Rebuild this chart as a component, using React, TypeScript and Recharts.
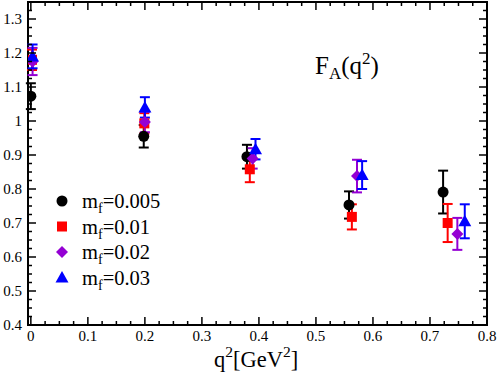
import { ScatterChart, Scatter, XAxis, YAxis, ErrorBar, ReferenceArea, Legend } from "recharts"

// q^2 positions, F_A values and errors per quark mass
const q2Mf005 = [0, 0.198, 0.379, 0.558, 0.723]
const faMf005 = [1.073, 0.955, 0.895, 0.753, 0.791]
const errMf005 = [0.038, 0.033, 0.035, 0.04, 0.063]

const q2Mf01 = [0.002, 0.199, 0.384, 0.563, 0.731]
const faMf01 = [1.18, 0.993, 0.858, 0.718, 0.7]
const errMf01 = [0.03, 0.03, 0.038, 0.037, 0.056]

const q2Mf02 = [0.003, 0.2, 0.389, 0.572, 0.748]
const faMf02 = [1.175, 0.997, 0.89, 0.838, 0.668]
const errMf02 = [0.04, 0.03, 0.03, 0.048, 0.047]

const q2Mf03 = [0.003, 0.2, 0.394, 0.581, 0.761]
const faMf03 = [1.19, 1.04, 0.917, 0.841, 0.705]
const errMf03 = [0.035, 0.03, 0.03, 0.041, 0.05]

const massLabels = ["0.005", "0.01", "0.02", "0.03"]

const xMajor = [0, 0.1, 0.2, 0.3, 0.4, 0.5, 0.6, 0.7, 0.8]
const yMajor = [0.4, 0.5, 0.6, 0.7, 0.8, 0.9, 1, 1.1, 1.2, 1.3]

const W = 498
const H = 376
const PLOT_LEFT = 28
const PLOT_RIGHT = 487
const PLOT_TOP = 2
const PLOT_BOTTOM = 325
const FONT = "'Times New Roman', Times, 'Liberation Serif', serif"

const withMinor = (major: number[], extra: number) => {
    const out: number[] = []
    for (let i = 0; i < major.length; i++) {
        out.push(major[i])
        for (let k = 1; k < 4; k++) {
            const v = +(major[i] + k * 0.025).toFixed(3)
            if (i < major.length - 1 || v <= extra) out.push(v)
        }
    }
    return out
}
const xTicks = withMinor(xMajor, 0.8)
const yTicks = withMinor(yMajor, 1.35)

const isMajor = (v: number) => Math.abs(v * 10 - Math.round(v * 10)) < 1e-6

const fmt = (v: number) => (v === 1 ? "1" : v === 0 ? "0" : v.toFixed(1))

function XTick({ x, payload }: any) {
    const v = payload.value
    const len = isMajor(v) ? 8 : 4
    return (
        <g>
            <line x1={x} x2={x} y1={PLOT_BOTTOM} y2={PLOT_BOTTOM - len} stroke="#000" strokeWidth={1.5} />
            <line x1={x} x2={x} y1={PLOT_TOP} y2={PLOT_TOP + len} stroke="#000" strokeWidth={1.5} />
            {isMajor(v) && (
                <text x={x} y={341} textAnchor="middle" style={{ fontFamily: FONT, fontSize: 15 }} fill="#000">
                    {fmt(v)}
                </text>
            )}
        </g>
    )
}

function YTick({ y, payload }: any) {
    const v = payload.value
    const len = isMajor(v) ? 8 : 4
    return (
        <g>
            <line x1={PLOT_LEFT} x2={PLOT_LEFT + len} y1={y} y2={y} stroke="#000" strokeWidth={1.5} />
            <line x1={PLOT_RIGHT} x2={PLOT_RIGHT - len} y1={y} y2={y} stroke="#000" strokeWidth={1.5} />
            {isMajor(v) && (
                <text x={22} y={y + 5} textAnchor="end" style={{ fontFamily: FONT, fontSize: 15 }} fill="#000">
                    {fmt(v)}
                </text>
            )}
        </g>
    )
}

const marker = (kind: string, cx: number, cy: number, color: string) => {
    if (kind === "circle") return <circle cx={cx} cy={cy} r={5.5} fill={color} />
    if (kind === "square") return <rect x={cx - 5} y={cy - 5} width={10} height={10} fill={color} />
    if (kind === "diamond")
        return <polygon points={`${cx},${cy - 6} ${cx + 6},${cy} ${cx},${cy + 6} ${cx - 6},${cy}`} fill={color} />
    return <polygon points={`${cx},${cy - 6.5} ${cx + 6.5},${cy + 5} ${cx - 6.5},${cy + 5}`} fill={color} />
}

const build = (xs: number[], ys: number[], es: number[]) => xs.map((x, i) => ({ x, y: ys[i], err: es[i] }))

const series = [
    { name: massLabels[0], color: "#000000", kind: "circle", data: build(q2Mf005, faMf005, errMf005) },
    { name: massLabels[1], color: "#ff0000", kind: "square", data: build(q2Mf01, faMf01, errMf01) },
    { name: massLabels[2], color: "#9400d3", kind: "diamond", data: build(q2Mf02, faMf02, errMf02) },
    { name: massLabels[3], color: "#0000ff", kind: "triangle", data: build(q2Mf03, faMf03, errMf03) },
]

// legend drawn as svg; rows ~25.5px apart
function LegendBox() {
    return (
        <svg width={140} height={108} style={{ display: "block" }}>
            {series.map((s, i) => {
                const cy = 13 + i * 25.5
                return (
                    <g key={s.name}>
                        {marker(s.kind, 7, cy, s.color)}
                        <text x={27} y={cy + 7} style={{ fontFamily: FONT, fontSize: 20.5 }} fill="#000">
                            m<tspan fontSize={14} dy={5}>f</tspan>
                            <tspan dy={-5}>={s.name}</tspan>
                        </text>
                    </g>
                )
            })}
        </svg>
    )
}

export default function App() {
    return (
        <div style={{ position: "absolute", left: 0, top: 0, width: W, height: H, background: "#fff" }}>
            <ScatterChart width={W} height={H} margin={{ top: PLOT_TOP, right: W - PLOT_RIGHT, left: 0, bottom: 0 }}>
                <XAxis
                    type="number"
                    dataKey="x"
                    domain={[-0.005, 0.8]}
                    ticks={xTicks}
                    interval={0}
                    tick={<XTick />}
                    tickLine={false}
                    axisLine={false}
                    height={H - PLOT_BOTTOM}
                    allowDataOverflow
                />
                <YAxis
                    type="number"
                    dataKey="y"
                    domain={[0.4, 1.35]}
                    ticks={yTicks}
                    interval={0}
                    tick={<YTick />}
                    tickLine={false}
                    axisLine={false}
                    width={PLOT_LEFT}
                    allowDataOverflow
                />
                <ReferenceArea x1={-0.005} x2={0.8} y1={0.4} y2={1.35} fill="none" stroke="#000" strokeWidth={2} />
                <Legend
                    layout="vertical"
                    align="center"
                    verticalAlign="middle"
                    wrapperStyle={{ left: 55, top: 188, width: "auto" }}
                    content={<LegendBox />}
                />
                {series.map((s) => (
                    <Scatter
                        key={s.name}
                        name={s.name}
                        data={s.data}
                        fill={s.color}
                        isAnimationActive={false}
                        shape={(p: any) => marker(s.kind, p.cx, p.cy, s.color)}
                    >
                        <ErrorBar dataKey="err" direction="y" width={5} stroke={s.color} strokeWidth={2} isAnimationActive={false} />
                    </Scatter>
                ))}
            </ScatterChart>
            <svg width={W} height={H} style={{ position: "absolute", left: 0, top: 0, pointerEvents: "none" }}>
                <text x={315} y={74} style={{ fontFamily: FONT, fontSize: 25 }} fill="#000">
                    F<tspan fontSize={17} dy={5}>A</tspan>
                    <tspan dy={-5}>(q</tspan>
                    <tspan fontSize={17} dy={-10}>2</tspan>
                    <tspan dy={10}>)</tspan>
                </text>
                <text x={214} y={367} style={{ fontFamily: FONT, fontSize: 22.5 }} fill="#000">
                    q<tspan fontSize={15.5} dy={-10}>2</tspan>
                    <tspan dy={10}>[GeV</tspan>
                    <tspan fontSize={15.5} dy={-10}>2</tspan>
                    <tspan dy={10}>]</tspan>
                </text>
            </svg>
        </div>
    )
}
